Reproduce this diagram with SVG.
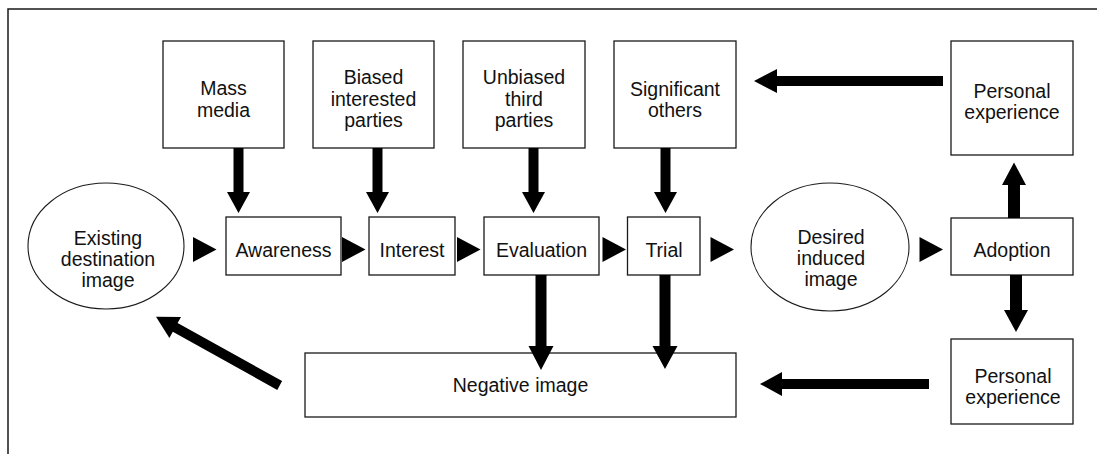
<svg xmlns="http://www.w3.org/2000/svg" xmlns:xlink="http://www.w3.org/1999/xlink" width="1097" height="454" viewBox="0 0 1097 454">
  <style>
    .box { fill: #ffffff; stroke: #1a1a1a; stroke-width: 1.3; }
    .ell { fill: #ffffff; stroke: #1a1a1a; stroke-width: 1.1; }
    .frame { fill: none; stroke: #1a1a1a; stroke-width: 1.5; }
    .lbl { font-family: "Liberation Sans", Arial, sans-serif; font-size: 19.5px; fill: #111111; text-anchor: middle; }
    .arr { fill: #000000; stroke: none; }
  </style>
  <defs>
    <path id="dnTop" d="M-5,0 H5 V44 H11.5 L0,65 L-11.5,44 H-5 Z"/>
    <path id="tri" d="M0,-12.5 L23.5,0 L0,12.5 Z"/>
  </defs>
  <rect width="1097" height="454" fill="#ffffff"/>
  <path class="frame" d="M8,454 V9 H1097"/>

  <g id="mass-media">
    <rect class="box" x="163" y="41" width="121" height="107"/>
    <text class="lbl" x="223.5" y="95">Mass</text>
    <text class="lbl" x="223.5" y="116.5">media</text>
  </g>
  <g id="biased">
    <rect class="box" x="313" y="41" width="121" height="107"/>
    <text class="lbl" x="373.5" y="84">Biased</text>
    <text class="lbl" x="373.5" y="105.5">interested</text>
    <text class="lbl" x="373.5" y="127">parties</text>
  </g>
  <g id="unbiased">
    <rect class="box" x="463" y="41" width="122" height="107"/>
    <text class="lbl" x="524" y="84">Unbiased</text>
    <text class="lbl" x="524" y="105.5">third</text>
    <text class="lbl" x="524" y="127">parties</text>
  </g>
  <g id="significant-others">
    <rect class="box" x="614" y="41" width="122" height="107"/>
    <text class="lbl" x="675" y="96">Significant</text>
    <text class="lbl" x="675" y="117">others</text>
  </g>
  <g id="personal-experience-top">
    <rect class="box" x="951" y="41" width="122" height="114"/>
    <text class="lbl" x="1012" y="97.5">Personal</text>
    <text class="lbl" x="1012" y="119">experience</text>
  </g>

  <g id="existing-image">
    <ellipse class="ell" cx="106" cy="246" rx="78" ry="63"/>
    <text class="lbl" x="108" y="245">Existing</text>
    <text class="lbl" x="108" y="266">destination</text>
    <text class="lbl" x="108" y="287">image</text>
  </g>
  <g id="awareness">
    <rect class="box" x="226" y="217" width="115" height="58"/>
    <text class="lbl" x="283.5" y="257">Awareness</text>
  </g>
  <g id="interest">
    <rect class="box" x="369" y="217" width="86" height="58"/>
    <text class="lbl" x="412" y="257">Interest</text>
  </g>
  <g id="evaluation">
    <rect class="box" x="484" y="217" width="115" height="58"/>
    <text class="lbl" x="541.5" y="257">Evaluation</text>
  </g>
  <g id="trial">
    <rect class="box" x="627.5" y="217" width="72.5" height="58"/>
    <text class="lbl" x="664" y="257">Trial</text>
  </g>
  <g id="desired-image">
    <ellipse class="ell" cx="830" cy="247" rx="79" ry="64"/>
    <text class="lbl" x="831" y="244">Desired</text>
    <text class="lbl" x="831" y="265">induced</text>
    <text class="lbl" x="831" y="286">image</text>
  </g>
  <g id="adoption">
    <rect class="box" x="951" y="218" width="122" height="57"/>
    <text class="lbl" x="1012" y="257">Adoption</text>
  </g>
  <g id="negative-image">
    <rect class="box" x="305" y="353" width="431" height="64"/>
    <text class="lbl" x="520.5" y="392">Negative image</text>
  </g>
  <g id="personal-experience-bottom">
    <rect class="box" x="951" y="339" width="122" height="85"/>
    <text class="lbl" x="1013" y="383">Personal</text>
    <text class="lbl" x="1013" y="404">experience</text>
  </g>

  <g id="connectors" class="arr">
    <use xlink:href="#dnTop" href="#dnTop" x="238.5" y="148"/>
    <use xlink:href="#dnTop" href="#dnTop" x="377.5" y="148"/>
    <use xlink:href="#dnTop" href="#dnTop" x="533.5" y="148"/>
    <use xlink:href="#dnTop" href="#dnTop" x="665.5" y="148"/>
    <use xlink:href="#tri" href="#tri" x="193" y="249.5"/>
    <use xlink:href="#tri" href="#tri" x="342" y="249.5"/>
    <use xlink:href="#tri" href="#tri" x="457" y="249.5"/>
    <use xlink:href="#tri" href="#tri" x="602.5" y="249.5"/>
    <use xlink:href="#tri" href="#tri" x="710.5" y="249.5"/>
    <use xlink:href="#tri" href="#tri" x="919.5" y="249.5"/>
    <path d="M535.5,275 H546.5 V346 H553.5 L541,370 L528.5,346 H535.5 Z"/>
    <path d="M659.5,275 H670.5 V346 H677.5 L665,369 L652.5,346 H659.5 Z"/>
    <path d="M1008,218 V185 H1002 L1014,162.5 L1026,185 H1020 V218 Z"/>
    <path d="M1010,275 H1022 V310 H1028 L1016,332 L1004,310 H1010 Z"/>
    <path d="M943,76 V86 H777 V93 L754,81 L777,69 V76 Z"/>
    <path d="M929,379 V389 H782 V396 L760,384 L782,372 V379 Z"/>
    <polygon points="282.1,381.1 177.6,323.0 181.0,316.9 156,316.7 169.4,337.9 172.8,331.8 277.3,389.9"/>
  </g>
</svg>
